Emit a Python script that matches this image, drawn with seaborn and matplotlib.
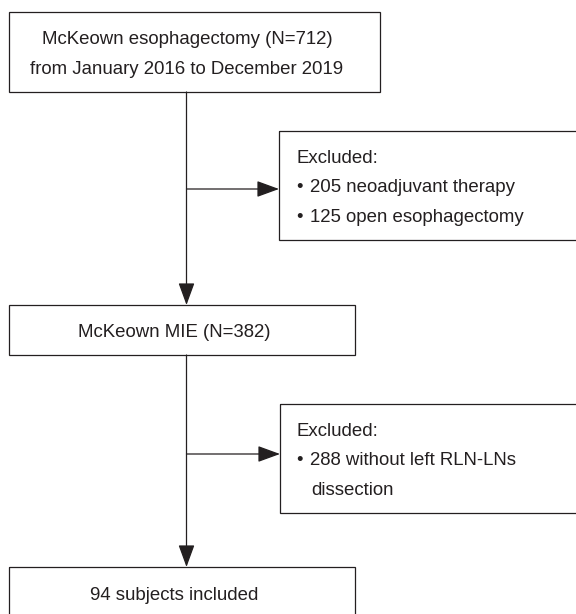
import matplotlib
matplotlib.use("Agg")
import matplotlib.pyplot as plt
import seaborn as sns

# ---- data (flowchart content) ----
total_n = 712
period = "from January 2016 to December 2019"
excl1_counts = [205, 125]
excl1_reasons = ["neoadjuvant therapy", "open esophagectomy"]
mie_n = 382
excl2_counts = [288]
excl2_reasons = ["without left RLN-LNs"]
excl2_cont = "dissection"
included_n = 94

sns.set_theme(style="white")
plt.rcParams['font.family'] = ['Liberation Sans', 'DejaVu Sans']

INK = "#231f20"
FS = 13.4

fig = plt.figure(figsize=(5.76, 6.14), dpi=100)
ax = fig.add_axes([0, 0, 1, 1])
ax.set_xlim(0, 576)
ax.set_ylim(614, 0)
ax.axis("off")

LW = 0.9

def box(x0, y0, x1, y1):
    ax.add_patch(plt.Rectangle((x0, y0), x1 - x0, y1 - y0, fill=False,
                               edgecolor=INK, linewidth=LW, clip_on=True))

def arrow(x0, y0, x1, y1):
    ax.annotate("", xy=(x1, y1), xytext=(x0, y0),
                arrowprops=dict(arrowstyle="-|>,head_length=1.15,head_width=0.42",
                                color=INK, lw=LW, shrinkA=0, shrinkB=0))

def txt(x, y, s, ha="center", fs=FS):
    ax.text(x, y, s, ha=ha, va="baseline", fontsize=fs, color=INK)

# boxes
box(8.5, 12, 380, 92)
box(279, 131, 600, 240)
box(8.5, 305, 355, 355)
box(280, 404, 600, 513)
box(8.5, 567, 355, 640)

# connectors
VX = 186.5
arrow(VX, 92, VX, 305)
arrow(VX, 189, 279, 189)
arrow(VX, 355, VX, 567)
arrow(VX, 454, 280, 454)

# texts
txt(187, 44, f"McKeown esophagectomy (N={total_n})")
txt(187, 74, period)

txt(296, 163, "Excluded:", ha="left")
for i, (c, r) in enumerate(zip(excl1_counts, excl1_reasons)):
    yb = 192 + 30 * i
    txt(296, yb, "\u2022", ha="left")
    txt(310, yb, f"{c} {r}", ha="left")

txt(174, 337, f"McKeown MIE (N={mie_n})")

txt(296, 436, "Excluded:", ha="left")
txt(296, 465, "\u2022", ha="left")
txt(310, 465, f"{excl2_counts[0]} {excl2_reasons[0]}", ha="left")
txt(311, 495, excl2_cont, ha="left")

txt(174, 600, f"{included_n} subjects included")

fig.savefig("out.png", dpi=100)
